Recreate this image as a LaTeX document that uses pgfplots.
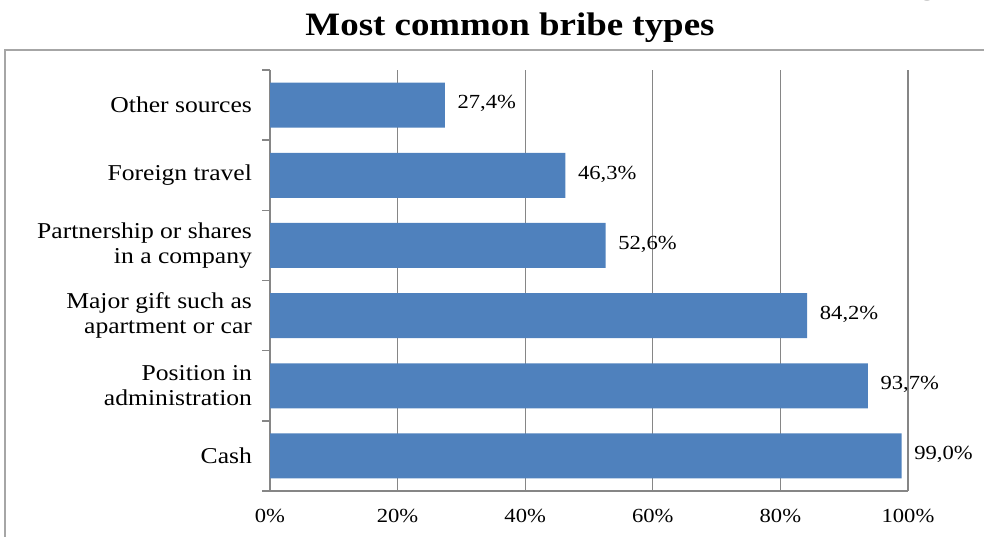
\documentclass[border=0pt]{standalone}
\usepackage{fontspec}
\setmainfont{Liberation Serif}[FakeStretch=1.13]
\usepackage{pgfplots}
\pgfplotsset{compat=1.18}
\definecolor{barblue}{HTML}{4F81BD}
\definecolor{axgray}{HTML}{868686}
\definecolor{framegray}{HTML}{A6A6A6}
\begin{document}
\begin{tikzpicture}
\useasboundingbox (0,0) rectangle (738pt,402pt);
\clip (0,0) rectangle (738pt,402pt);
\begin{scope}[x=0.75pt,y=0.75pt]
\draw[framegray, line width=1.1pt] (5,486) rectangle (1010,-30);
\node[anchor=base, inner sep=0pt, font=\bfseries\fontsize{24.5}{29}\selectfont] at (510,500) {Most common bribe types};
\node[anchor=base east, inner sep=0pt, font=\bfseries\fontsize{24.5}{29}\selectfont] at (937,542) {g};
\end{scope}
\begin{axis}[
  at={(202.5pt,33.75pt)}, anchor=south west,
  width=478.5pt, height=315.75pt, scale only axis,
  xbar, bar width=33.75pt,
  xmin=0, xmax=100, ymin=-0.5, ymax=5.5,
  enlargelimits=false, clip=false,
  /pgf/number format/assume math mode=true,
  xtick={0,20,...,100},
  xticklabel={\pgfmathprintnumber{\tick}\%},
  ytick={0,...,5},
  yticklabels={Cash,{Position in\\administration},{Major gift such as\\apartment or car},{Partnership or shares\\in a company},Foreign travel,Other sources},
  minor ytick={-0.5,0.5,...,5.5},
  tick align=outside,
  major tick length=0pt,
  minor tick length=6pt,
  axis x line*=bottom, axis y line*=left,
  axis line style={axgray, line width=1.1pt},
  minor tick style={axgray, line width=1.1pt},
  xmajorgrids, major grid style={axgray, line width=0.9pt},
  yticklabel style={align=right, xshift=-10pt, font=\fontsize{17}{19}\selectfont},
  xticklabel style={yshift=-10pt, font=\fontsize{15}{17}\selectfont},
  point meta=x,
  nodes near coords={\pgfmathprintnumber[fixed,fixed zerofill,precision=1,use comma]{\pgfplotspointmeta}\%},
  every node near coord/.append style={anchor=west, xshift=6pt, yshift=1pt, font=\fontsize{15}{17}\selectfont, black},
]
\addplot[fill=barblue, draw=none] coordinates {
  (99.0,0) (93.7,1) (84.2,2) (52.6,3) (46.3,4) (27.4,5)
};
\end{axis}
\end{tikzpicture}
\end{document}
